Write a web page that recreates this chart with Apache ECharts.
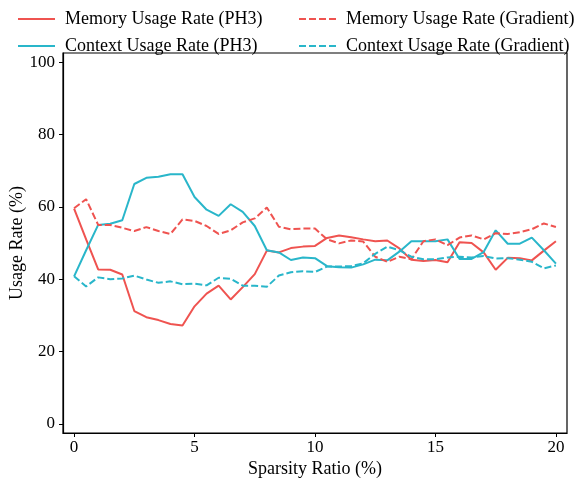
<!DOCTYPE html>
<html>
<head>
<meta charset="utf-8">
<script src="https://cdn.jsdelivr.net/npm/echarts@6/dist/echarts.min.js"></script>
<style>
  html, body { margin: 0; padding: 0; background: #fff; }
  #chart { width: 577px; height: 479px; }
</style>
</head>
<body>
<div id="chart"></div>
<script>
// sparsity ratio (%) sample points
var sparsity = [0, 0.5, 1, 1.5, 2, 2.5, 3, 3.5, 4, 4.5, 5, 5.5, 6, 6.5, 7, 7.5, 8, 8.5, 9, 9.5,
  10, 10.5, 11, 11.5, 12, 12.5, 13, 13.5, 14, 14.5, 15, 15.5, 16, 16.5, 17, 17.5, 18, 18.5, 19, 19.5, 20];

var memPH3 = [59.5, 51.0, 42.7, 42.6, 41.3, 31.2, 29.5, 28.7, 27.6, 27.2, 32.5, 36.0, 38.2, 34.4, 37.8, 41.4,
  47.9, 47.4, 48.6, 49.0, 49.2, 51.4, 52.1, 51.6, 51.0, 50.5, 50.7, 48.5, 45.4, 45.0, 45.3, 44.7,
  50.2, 50.0, 47.4, 42.6, 45.9, 45.8, 45.2, 47.9, 50.5];
var ctxPH3 = [40.8, 48.0, 55.0, 55.3, 56.3, 66.3, 68.0, 68.3, 69.0, 69.0, 62.7, 59.2, 57.5, 60.7, 58.6, 54.7,
  48.0, 47.4, 45.3, 46.0, 45.8, 43.6, 43.3, 43.2, 44.1, 45.4, 45.2, 47.6, 50.5, 50.5, 50.5, 51.0,
  45.6, 45.6, 47.5, 53.5, 49.8, 49.8, 51.5, 48.0, 44.3];
var memGrad = [59.6, 62.1, 55.0, 55.0, 54.2, 53.3, 54.4, 53.3, 52.5, 56.5, 56.1, 54.7, 52.5, 53.5, 55.7, 56.8,
  59.8, 54.5, 53.8, 54.0, 54.0, 51.0, 49.9, 50.7, 50.4, 46.2, 44.8, 46.2, 45.5, 50.5, 51.0, 49.4,
  51.5, 52.1, 51.0, 52.7, 52.5, 53.0, 53.8, 55.4, 54.4];
var ctxGrad = [40.8, 38.0, 40.5, 40.0, 40.2, 41.0, 39.9, 39.0, 39.4, 38.6, 38.8, 38.3, 40.4, 40.1, 38.2, 38.2,
  37.9, 41.0, 41.9, 42.2, 42.0, 43.5, 43.5, 43.6, 44.4, 47.0, 49.0, 48.0, 46.2, 45.5, 45.5, 46.0,
  46.2, 46.0, 46.4, 45.7, 45.8, 45.4, 44.8, 43.0, 43.8];

var xTicks = [0, 5, 10, 15, 20];
var yTicks = [0, 20, 40, 60, 80, 100];

var RED = '#ef5350';
var CYAN = '#29b6ca';
var FONT = 'Liberation Serif';

function pairs(ys) {
  return sparsity.map(function (x, i) { return [x, ys[i]]; });
}

function mkSeries(name, ys, color, dashed) {
  return {
    name: name,
    type: 'line',
    data: pairs(ys),
    symbol: 'none',
    showSymbol: false,
    lineStyle: { color: color, width: 2, type: dashed ? [7, 3] : 'solid' },
    itemStyle: { color: color },
    emphasis: { disabled: true },
    animation: false
  };
}

var chart = echarts.init(document.getElementById('chart'));

var legendText = { fontFamily: FONT, fontSize: 18, color: '#000', padding: [0, 0, 0, 5] };

chart.setOption({
  backgroundColor: '#fff',
  legend: [{
    data: ['Memory Usage Rate (PH3)', 'Context Usage Rate (PH3)'],
    orient: 'vertical', left: 12, top: 5,
    itemWidth: 37, itemHeight: 18, itemGap: 9,
    itemStyle: { opacity: 0 },
    textStyle: legendText
  }, {
    data: ['Memory Usage Rate (Gradient)', 'Context Usage Rate (Gradient)'],
    orient: 'vertical', left: 293, top: 5,
    itemWidth: 37, itemHeight: 18, itemGap: 9,
    itemStyle: { opacity: 0 },
    textStyle: legendText
  }],
  grid: {
    left: 63, right: 10, top: 53, bottom: 46,
    outerBoundsMode: 'none', containLabel: false,
    show: true, borderColor: '#000', borderWidth: 1.2
  },
  xAxis: {
    type: 'value',
    min: -0.46, max: 20.46,
    name: 'Sparsity Ratio (%)',
    nameLocation: 'middle', nameGap: 27, nameMoveOverlap: false,
    nameTextStyle: { fontFamily: FONT, fontSize: 18, color: '#000' },
    axisLine: { show: true, onZero: false, lineStyle: { color: '#000', width: 1.2 } },
    splitLine: { show: false },
    axisTick: { show: true, inside: false, length: 4, lineStyle: { color: '#000' }, customValues: xTicks },
    axisLabel: { fontFamily: FONT, fontSize: 17, color: '#000', margin: 6, customValues: xTicks }
  },
  yAxis: {
    type: 'value',
    min: -2.5, max: 102.5,
    name: 'Usage Rate (%)',
    nameLocation: 'middle', nameGap: 37, nameMoveOverlap: false,
    nameTextStyle: { fontFamily: FONT, fontSize: 18, color: '#000' },
    axisLine: { show: true, onZero: false, lineStyle: { color: '#000', width: 1.2 } },
    splitLine: { show: false },
    axisTick: { show: true, inside: false, length: 4, lineStyle: { color: '#000' }, customValues: yTicks },
    axisLabel: { fontFamily: FONT, fontSize: 17, color: '#000', margin: 8, customValues: yTicks }
  },
  series: [
    mkSeries('Memory Usage Rate (PH3)', memPH3, RED, false),
    mkSeries('Context Usage Rate (PH3)', ctxPH3, CYAN, false),
    mkSeries('Memory Usage Rate (Gradient)', memGrad, RED, true),
    mkSeries('Context Usage Rate (Gradient)', ctxGrad, CYAN, true)
  ]
});
</script>
</body>
</html>
